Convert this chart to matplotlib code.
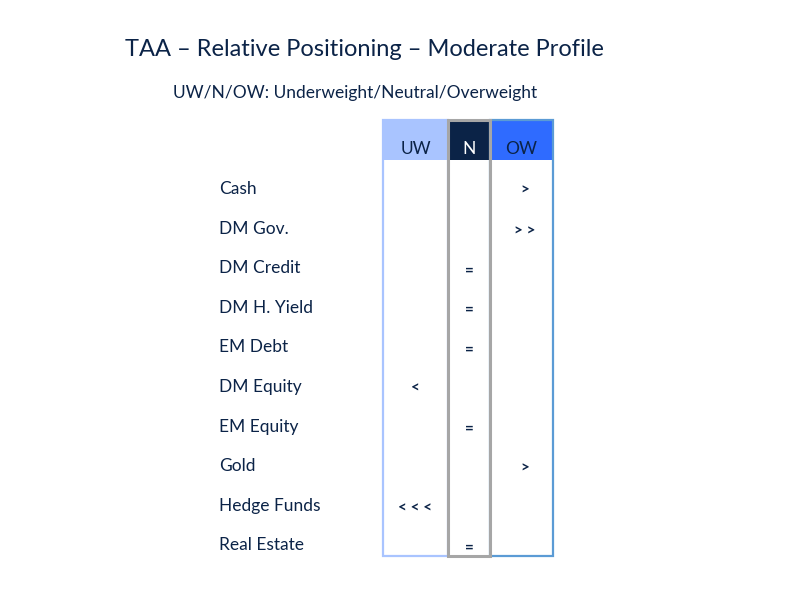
import matplotlib.pyplot as plt
from matplotlib.patches import Rectangle

plt.rcParams['font.family'] = 'Lato'

# Datos
assets = ['Cash', 'DM Gov.', 'DM Credit', 'DM H. Yield', 'EM Debt',
          'DM Equity', 'EM Equity', 'Gold', 'Hedge Funds', 'Real Estate']
signals = ['>', '>>', '=', '=', '=', '<', '=', '>', '<<<', '=']
columns = ['OW', 'OW', 'N', 'N', 'N', 'UW', 'N', 'OW', 'UW', 'N']
headers = ['UW', 'N', 'OW']

# Geometria en pixeles
col_x = {'UW': (383, 448), 'N': (448, 490), 'OW': (490, 553)}
head_col = {'UW': '#a9c4ff', 'N': '#0b2347', 'OW': '#2f6bff'}
head_txt = {'UW': '#0b2347', 'N': 'white', 'OW': '#0b2347'}
edge_col = {'UW': '#a9c4ff', 'N': '#a6a6a6', 'OW': '#5b9bd5'}
top, head_bot, bottom = 120, 160, 556
row0, step = 189, 39.6
navy = '#0b2347'

fig = plt.figure(figsize=(8, 6), dpi=100)
ax = fig.add_axes([0, 0, 1, 1])
ax.set_xlim(0, 800)
ax.set_ylim(600, 0)
ax.axis('off')

fig.text(125 / 800, 1 - 50 / 600, 'TAA – Relative Positioning – Moderate Profile',
         fontsize=17, color=navy, va='center')
fig.text(173 / 800, 1 - 93 / 600, 'UW/N/OW: Underweight/Neutral/Overweight',
         fontsize=12.5, color=navy, va='center')

for h in headers:
    x0, x1 = col_x[h]
    ax.add_patch(Rectangle((x0, top), x1 - x0, head_bot - top, facecolor=head_col[h], edgecolor='none'))
    ax.text((x0 + x1) / 2, 149, h, ha='center', va='center', fontsize=12.5, color=head_txt[h])

for h in ['UW', 'OW', 'N']:
    x0, x1 = col_x[h]
    lw = 2.2 if h == 'N' else 1.6
    ax.add_patch(Rectangle((x0, top), x1 - x0, bottom - top, facecolor='none',
                           edgecolor=edge_col[h], linewidth=lw))

for i, (a, s, c) in enumerate(zip(assets, signals, columns)):
    y = row0 + i * step
    ax.text(219, y, a, ha='left', va='center', fontsize=12.5, color=navy)
    x0, x1 = col_x[c]
    ax.text((x0 + x1) / 2 + (3 if c == 'OW' else 0), y + 2, s.replace('', ' ').strip() if len(s) > 1 else s,
            ha='center', va='center', fontsize=11, fontweight='bold', color=navy)

fig.savefig('out.png', dpi=100)
